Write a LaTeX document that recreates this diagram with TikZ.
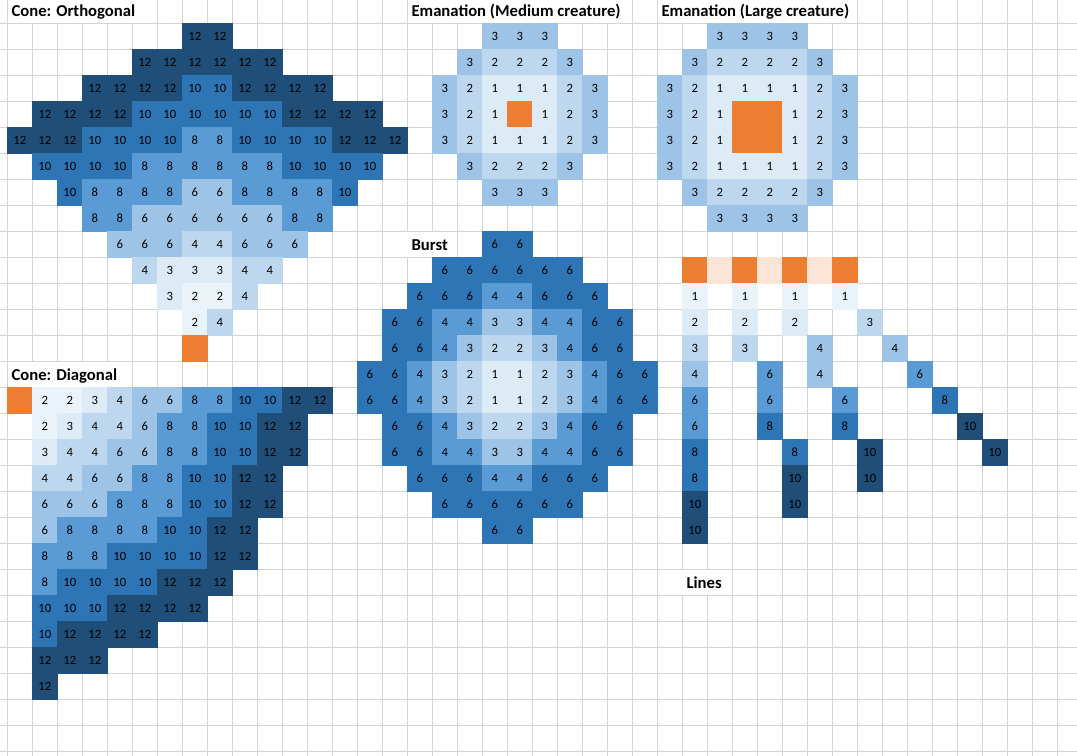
\documentclass[tikz,border=0pt]{standalone}
\usepackage{fontspec}
\setmainfont{Carlito}
\definecolor{p1}{HTML}{EBF3FA}
\definecolor{p2}{HTML}{DDEBF7}
\definecolor{p3}{HTML}{BDD7EE}
\definecolor{p4}{HTML}{9DC3E6}
\definecolor{p5}{HTML}{5B9BD5}
\definecolor{p6}{HTML}{2E75B6}
\definecolor{p7}{HTML}{1F4E79}
\definecolor{orng}{HTML}{ED7D31}
\definecolor{lorng}{HTML}{FCE4D6}
\definecolor{gridc}{HTML}{D4D4D4}
% cone colour map
\colorlet{cA2}{p1}\colorlet{cA3}{p2}\colorlet{cA4}{p3}\colorlet{cA6}{p4}
\colorlet{cA8}{p5}\colorlet{cA10}{p6}\colorlet{cA12}{p7}
% burst / emanation colour map
\colorlet{cB1}{p2}\colorlet{cB2}{p3}\colorlet{cB3}{p4}\colorlet{cB4}{p5}\colorlet{cB6}{p6}
% lines colour map
\colorlet{cL1}{p1}\colorlet{cL2}{p2}\colorlet{cL3}{p3}\colorlet{cL4}{p4}
\colorlet{cL6}{p5}\colorlet{cL8}{p6}\colorlet{cL10}{p7}

\tikzset{
  numtxt/.style={anchor=base, inner sep=0pt, text=black, font=\fontsize{9.5}{11}\selectfont},
  ttl/.style={anchor=base west, inner sep=0pt, text=black, font=\bfseries\fontsize{12.5}{14}\selectfont},
  gridline/.style={draw=gridc, line width=0.75pt},
}

\newcommand\xcell[4]{% col,row,value,colour
  \fill[#4] ({7.3+25*(#1)-0.5},{-2.7+26*(#2)-0.5}) rectangle ({32.3+25*(#1)+0.5},{23.3+26*(#2)+0.5});
  \node[numtxt] (n-#1-#2) at ({19.8+25*(#1)},{23.3+26*(#2)-8.6}) {#3};
}
\newcommand\xrow[4]{% map,row,startcol,list
  \foreach \v [count=\i from 0] in {#4} {
    \pgfmathtruncatemacro\cc{#3+\i}
    \edef\tmpcmd{\noexpand\xcell{\cc}{#2}{\v}{#1\v}}\tmpcmd
  }
}
\newcommand\lcell[3]{\xcell{#1}{#2}{#3}{cL#3}}
% name, x-start of white cover (px), x-end of cover (px), row, text x (px), text
\newcommand\xtitle[6]{%
  \fill[white] (#2,{-2.7+26*(#4)+0.5}) rectangle (#3,{23.3+26*(#4)-0.5});
  \node[ttl] (#1) at (#5,{23.3+26*(#4)-7}) {#6};
}

\begin{document}
\begin{tikzpicture}[x=0.75pt,y=-0.75pt]
\useasboundingbox (0,0) rectangle (1077,756);
\fill[white] (0,0) rectangle (1077,756);
% grid
\foreach \k in {0,...,42} \draw[gridline] ({7.3+25*\k},0) -- ({7.3+25*\k},756);
\foreach \k in {0,...,28} \draw[gridline] (0,{23.3+26*\k}) -- (1077,{23.3+26*\k});

% ---------- Cone: Orthogonal ----------
\xtitle{t1}{8.3}{156.8}{0}{11.3}{Cone: Orthogonal}
\xrow{cA}{1}{7}{12,12}
\xrow{cA}{2}{5}{12,12,12,12,12,12}
\xrow{cA}{3}{3}{12,12,12,12,10,10,12,12,12,12}
\xrow{cA}{4}{1}{12,12,12,12,10,10,10,10,10,10,12,12,12,12}
\xrow{cA}{5}{0}{12,12,12,10,10,10,10,8,8,10,10,10,10,12,12,12}
\xrow{cA}{6}{1}{10,10,10,10,8,8,8,8,8,8,10,10,10,10}
\xrow{cA}{7}{2}{10,8,8,8,8,6,6,8,8,8,8,10}
\xrow{cA}{8}{3}{8,8,6,6,6,6,6,6,8,8}
\xrow{cA}{9}{4}{6,6,6,4,4,6,6,6}
\xrow{cA}{10}{5}{4,3,3,3,4,4}
\xrow{cA}{11}{6}{3,2,2,4}
\xrow{cA}{12}{7}{2,4}
\xcell{7}{13}{}{orng}

% ---------- Cone: Diagonal ----------
\xtitle{t4}{8.3}{131.8}{14}{11.3}{Cone: Diagonal}
\xcell{0}{15}{}{orng}
\xrow{cA}{15}{1}{2,2,3,4,6,6,8,8,10,10,12,12}
\xrow{cA}{16}{1}{2,3,4,4,6,8,8,10,10,12,12}
\xrow{cA}{17}{1}{3,4,4,6,6,8,8,10,10,12,12}
\xrow{cA}{18}{1}{4,4,6,6,8,8,10,10,12,12}
\xrow{cA}{19}{1}{6,6,6,8,8,8,10,10,12,12}
\xrow{cA}{20}{1}{6,8,8,8,8,10,10,12,12}
\xrow{cA}{21}{1}{8,8,8,10,10,10,10,12,12}
\xrow{cA}{22}{1}{8,10,10,10,10,12,12,12}
\xrow{cA}{23}{1}{10,10,10,12,12,12,12}
\xrow{cA}{24}{1}{10,12,12,12,12}
\xrow{cA}{25}{1}{12,12,12}
\xrow{cA}{26}{1}{12}

% ---------- Emanation (Medium) ----------
\xtitle{t2}{408.3}{631.8}{0}{411.3}{Emanation (Medium creature)}
\xrow{cB}{1}{19}{3,3,3}
\xrow{cB}{2}{18}{3,2,2,2,3}
\xrow{cB}{3}{17}{3,2,1,1,1,2,3}
\xrow{cB}{4}{17}{3,2,1}
\xcell{20}{4}{}{orng}
\xrow{cB}{4}{21}{1,2,3}
\xrow{cB}{5}{17}{3,2,1,1,1,2,3}
\xrow{cB}{6}{18}{3,2,2,2,3}
\xrow{cB}{7}{19}{3,3,3}

% ---------- Emanation (Large) ----------
\xtitle{t3}{658.3}{856.8}{0}{661.3}{Emanation (Large creature)}
\xrow{cB}{1}{28}{3,3,3,3}
\xrow{cB}{2}{27}{3,2,2,2,2,3}
\xrow{cB}{3}{26}{3,2,1,1,1,1,2,3}
\xrow{cB}{4}{26}{3,2,1}
\xcell{29}{4}{}{orng}\xcell{30}{4}{}{orng}
\xrow{cB}{4}{31}{1,2,3}
\xrow{cB}{5}{26}{3,2,1}
\xcell{29}{5}{}{orng}\xcell{30}{5}{}{orng}
\xrow{cB}{5}{31}{1,2,3}
\xrow{cB}{6}{26}{3,2,1,1,1,1,2,3}
\xrow{cB}{7}{27}{3,2,2,2,2,3}
\xrow{cB}{8}{28}{3,3,3,3}

% ---------- Burst ----------
\xtitle{t5}{396}{456.8}{9}{411.3}{Burst}
\xrow{cB}{9}{19}{6,6}
\xrow{cB}{10}{17}{6,6,6,6,6,6}
\xrow{cB}{11}{16}{6,6,6,4,4,6,6,6}
\xrow{cB}{12}{15}{6,6,4,4,3,3,4,4,6,6}
\xrow{cB}{13}{15}{6,6,4,3,2,2,3,4,6,6}
\xrow{cB}{14}{14}{6,6,4,3,2,1,1,2,3,4,6,6}
\xrow{cB}{15}{14}{6,6,4,3,2,1,1,2,3,4,6,6}
\xrow{cB}{16}{15}{6,6,4,3,2,2,3,4,6,6}
\xrow{cB}{17}{15}{6,6,4,4,3,3,4,4,6,6}
\xrow{cB}{18}{16}{6,6,6,4,4,6,6,6}
\xrow{cB}{19}{17}{6,6,6,6,6,6}
\xrow{cB}{20}{19}{6,6}

% ---------- Lines ----------
\xcell{27}{10}{}{orng}\xcell{28}{10}{}{lorng}\xcell{29}{10}{}{orng}\xcell{30}{10}{}{lorng}
\xcell{31}{10}{}{orng}\xcell{32}{10}{}{lorng}\xcell{33}{10}{}{orng}
\lcell{27}{11}{1}\lcell{29}{11}{1}\lcell{31}{11}{1}\lcell{33}{11}{1}
\lcell{27}{12}{2}\lcell{29}{12}{2}\lcell{31}{12}{2}\lcell{34}{12}{3}
\lcell{27}{13}{3}\lcell{29}{13}{3}\lcell{32}{13}{4}\lcell{35}{13}{4}
\lcell{27}{14}{4}\lcell{30}{14}{6}\lcell{32}{14}{4}\lcell{36}{14}{6}
\lcell{27}{15}{6}\lcell{30}{15}{6}\lcell{33}{15}{6}\lcell{37}{15}{8}
\lcell{27}{16}{6}\lcell{30}{16}{8}\lcell{33}{16}{8}\lcell{38}{16}{10}
\lcell{27}{17}{8}\lcell{31}{17}{8}\lcell{34}{17}{10}\lcell{39}{17}{10}
\lcell{27}{18}{8}\lcell{31}{18}{10}\lcell{34}{18}{10}
\lcell{27}{19}{10}\lcell{31}{19}{10}
\lcell{27}{20}{10}
\xtitle{t6}{660}{731.8}{22}{686.3}{Lines}
\end{tikzpicture}
\end{document}
